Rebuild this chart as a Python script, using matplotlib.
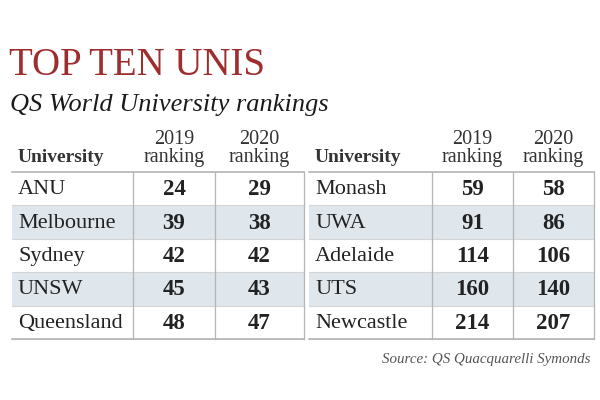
import matplotlib.pyplot as plt
from matplotlib.patches import Rectangle

# Data
universities = ["ANU", "Melbourne", "Sydney", "UNSW", "Queensland",
                "Monash", "UWA", "Adelaide", "UTS", "Newcastle"]
rank_2019 = [24, 39, 42, 45, 48, 59, 91, 114, 160, 214]
rank_2020 = [29, 38, 42, 43, 47, 58, 86, 106, 140, 207]
headers = ["University", "2019\nranking", "2020\nranking"]

title = "TOP TEN UNIS"
subtitle = "QS World University rankings"
source = "Source: QS Quacquarelli Symonds"

serif = "Liberation Serif"
shade = "#dfe6ec"
grid = "#b5b5b5"

fig = plt.figure(figsize=(6, 4), dpi=100)
ax = fig.add_axes([0, 0, 1, 1])
ax.set_xlim(0, 600)
ax.set_ylim(400, 0)
ax.axis("off")

ax.text(9, 75, title, fontsize=28, family=serif, color="#9e2e2e", va="baseline")
ax.text(10, 111, subtitle, fontsize=19, family=serif, style="italic", color="#1a1a1a", va="baseline")

# two tables side by side: (left edge, col1 line, col2 line, right edge)
tables = [(12, 133, 215, 304), (309, 432, 513, 594)]
top = 172
row_h = 33.4

for t, (x0, c1, c2, x1) in enumerate(tables):
    names = universities[t * 5:(t + 1) * 5]
    a = rank_2019[t * 5:(t + 1) * 5]
    b = rank_2020[t * 5:(t + 1) * 5]

    # header
    ax.text(x0 + 6, 162, headers[0], fontsize=14, family=serif, weight="bold",
            color="#333333", va="baseline")
    for h, xc in zip(headers[1:], [(c1 + c2) / 2, (c2 + x1) / 2]):
        ax.text(xc, 162, h, fontsize=14.5, family=serif, color="#333333",
                ha="center", va="baseline", linespacing=0.95)

    for i in range(5):
        y = top + i * row_h
        if i % 2 == 1:
            ax.add_patch(Rectangle((x0, y), x1 - x0, row_h, color=shade, lw=0))
        ax.plot([x0, x1], [y + row_h, y + row_h], color="#d5d5d5", lw=0.8)
        yc = y + row_h / 2 + 1
        ax.text(x0 + 6, yc, names[i], fontsize=16, family=serif, color="#222222", va="center")
        ax.text((c1 + c2) / 2, yc, str(a[i]), fontsize=16.5, family=serif, weight="bold",
                color="#222222", ha="center", va="center")
        ax.text((c2 + x1) / 2, yc, str(b[i]), fontsize=16.5, family=serif, weight="bold",
                color="#222222", ha="center", va="center")

    bottom = top + 5 * row_h
    ax.plot([x0, x1], [top, top], color=grid, lw=1.2)
    ax.plot([x0, x1], [bottom, bottom], color=grid, lw=1.2)
    for xv in (c1, c2, x1):
        ax.plot([xv, xv], [top, bottom], color=grid, lw=0.9)

ax.text(591, 363, source, fontsize=10.8, family=serif, style="italic", color="#555555",
        ha="right", va="baseline")

fig.savefig("out.png", dpi=100)
